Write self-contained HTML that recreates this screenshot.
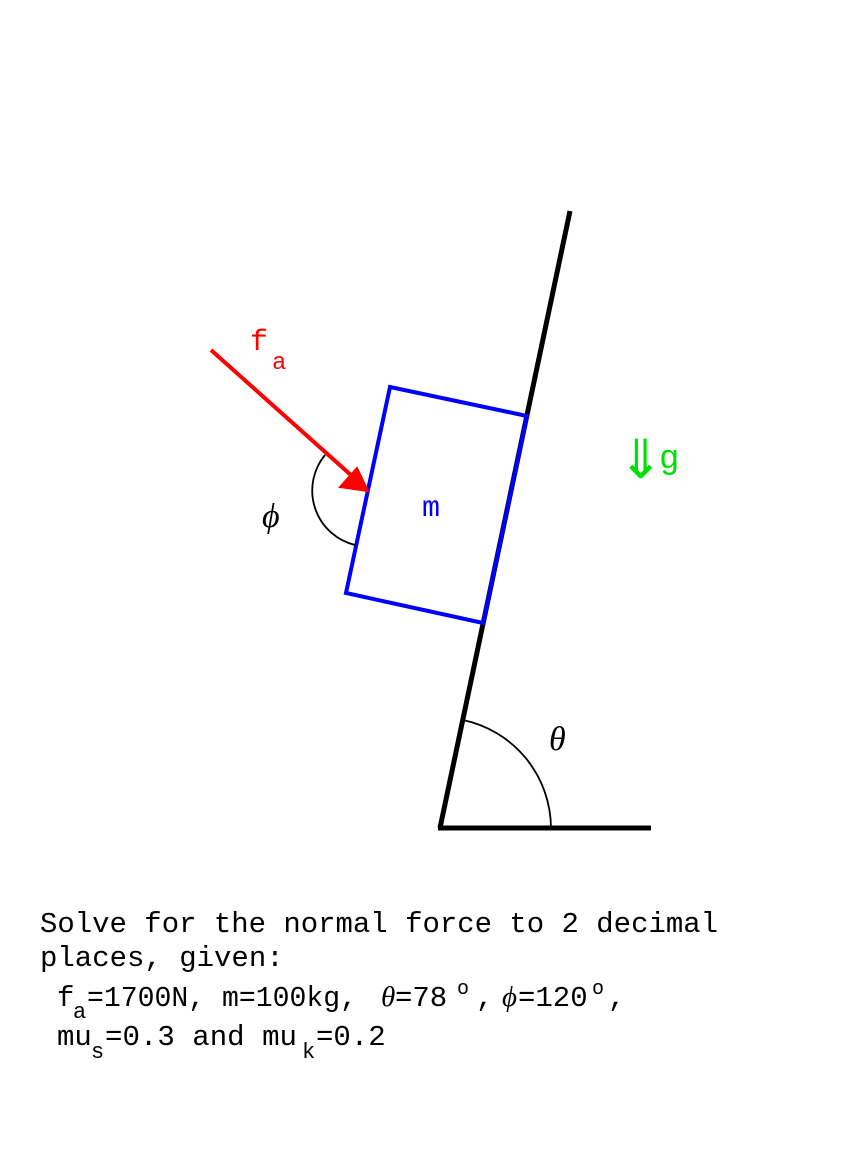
<!DOCTYPE html>
<html><head><meta charset="utf-8"><style>body{margin:0;background:#fff}svg{display:block}</style></head><body>
<svg width="861" height="1155" xmlns="http://www.w3.org/2000/svg">
<rect width="861" height="1155" fill="#fff"/>
<line x1="440" y1="828" x2="570" y2="211" stroke="#000" stroke-width="5"/>
<line x1="438" y1="828" x2="651" y2="828" stroke="#000" stroke-width="5"/>
<polygon points="390,387 527,416 483,623 346,593" fill="none" stroke="#0000ff" stroke-width="4"/>
<path d="M463,720 A111,111 0 0 1 551,828" fill="none" stroke="#000" stroke-width="1.8"/>
<path d="M325,455 A56,56 0 0 0 355,545" fill="none" stroke="#000" stroke-width="1.8"/>
<line x1="211" y1="350" x2="352" y2="476" stroke="#f00" stroke-width="4"/>
<polygon points="368,491 340,487 357,468" fill="#f00" stroke="#f00" stroke-width="2"/>
<g font-family="Liberation Mono, monospace">
<text x="250" y="350" font-size="30" fill="#f00">f</text>
<text x="272" y="369" font-size="24" fill="#f00">a</text>
<text x="422" y="516" font-size="30" fill="#0000ff">m</text>
<text x="659" y="468" font-size="34" fill="#00e000">g</text>
</g>
<text x="618" y="478" font-size="54" fill="#00e000" font-family="DejaVu Sans, sans-serif">⇓</text>
<g font-family="Liberation Serif, serif" font-style="italic" font-size="34">
<text x="262" y="527">ϕ</text>
<text x="549" y="750">θ</text>
</g>
<g font-family="Liberation Mono, monospace" font-size="29" fill="#000">
<text x="40" y="932" textLength="678" lengthAdjust="spacingAndGlyphs">Solve for the normal force to 2 decimal</text>
<text x="40" y="966">places, given:</text>
<text x="57" y="1006">f</text>
<text x="73" y="1018" font-size="22">a</text>
<text x="87" y="1006" textLength="270" lengthAdjust="spacingAndGlyphs">=1700N, m=100kg,</text>
<text x="381" y="1006" font-family="Liberation Serif, serif" font-style="italic">θ</text>
<text x="395" y="1006">=78</text>
<text x="457" y="994" font-size="20">o</text>
<text x="476" y="1006">,</text>
<text x="502" y="1006" font-family="Liberation Serif, serif" font-style="italic">ϕ</text>
<text x="518" y="1006">=120</text>
<text x="592" y="994" font-size="20">o</text>
<text x="608" y="1006">,</text>
<text x="57" y="1045">mu</text>
<text x="91" y="1058" font-size="22">s</text>
<text x="105" y="1045" textLength="192" lengthAdjust="spacingAndGlyphs">=0.3 and mu</text>
<text x="302" y="1058" font-size="22">k</text>
<text x="316" y="1045">=0.2</text>
</g>
</svg>
</body></html>
